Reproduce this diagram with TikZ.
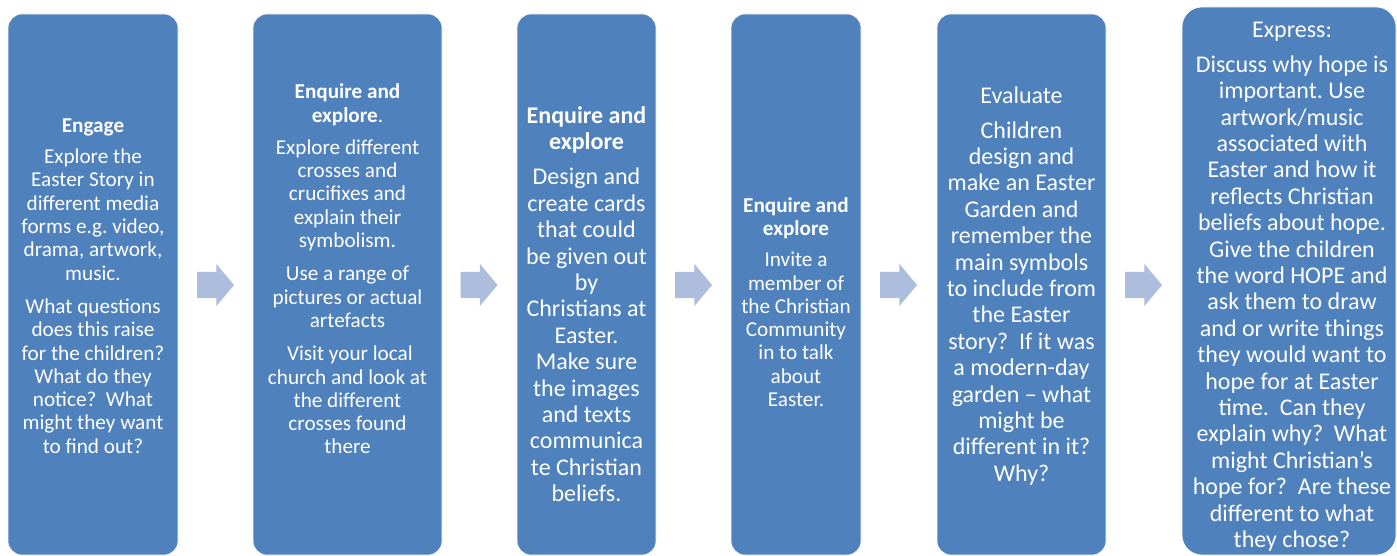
\documentclass[tikz,border=0pt]{standalone}
\usepackage{fontspec}
\setmainfont{Carlito}
\usetikzlibrary{shapes.arrows}
\frenchspacing

\definecolor{boxblue}{RGB}{79,129,189}
\definecolor{arrowblue}{RGB}{172,189,221}

\tikzset{
  smalltxt/.style={font=\fontsize{21.2}{23.3}\selectfont},
  bigtxt/.style={font=\fontsize{24}{26.4}\selectfont}
}

\begin{document}
\begin{tikzpicture}[x=1pt,y=-1pt]
      \useasboundingbox (0,0) rectangle (1397,556);

      \begin{scope}[every node/.style={rectangle,rounded corners=14pt,fill=boxblue,draw=white,line width=0.6pt,inner sep=0pt,minimum height=541pt}]
        \node[minimum width=170pt] (b1) at (93,284.5)   {};
        \node[minimum width=189pt] (b2) at (347.5,284.5) {};
        \node[minimum width=139pt] (b3) at (586.5,284.5) {};
        \node[minimum width=130pt] (b4) at (796,284.5)  {};
        \node[minimum width=169pt] (b5) at (1021.5,284.5) {};
        \node[minimum width=214pt,minimum height=548pt,rounded corners=20pt] (b6) at (1289,281) {};
      \end{scope}

      \begin{scope}[every node/.style={single arrow,fill=arrowblue,inner sep=0pt,text height=13pt,text depth=13pt,minimum height=37pt,single arrow head extend=8pt,single arrow tip angle=100}]
        \node (a1) at (210,285)    {};
        \node (a2) at (473.5,285)  {};
        \node (a3) at (688,285)    {};
        \node (a4) at (893,285)    {};
        \node (a5) at (1138,285)   {};
      \end{scope}

      \begin{scope}[every node/.style={text=white,align=center,inner sep=0pt}]
        \node[smalltxt] (t1) at (93,286) {\textbf{Engage}\\[8pt]
          Explore the\\ Easter Story in\\ different media\\ forms e.g. video,\\ drama, artwork,\\ music.\\[10pt]
          What questions\\ does this raise\\ for the children?\\ What do they\\ notice?\ \ What\\ might they want\\ to find out?};
        \node[smalltxt] (t2) at (347.5,269) {\textbf{Enquire and}\\ \textbf{explore}.\\[9pt]
          Explore different\\ crosses and\\ crucifixes and\\ explain their\\ symbolism.\\[10pt]
          Use a range of\\ pictures or actual\\ artefacts\\[10pt]
          \ Visit your local\\ church and look at\\ the different\\ crosses found\\ there};
        \node[bigtxt] (t3) at (586.5,304) {\textbf{Enquire and}\\ \textbf{explore}\\[9pt]
          Design and\\ create cards\\ that could\\ be given out\\ by\\ Christians at\\ Easter.\\ Make sure\\ the images\\ and texts\\ communica\\ te Christian\\ beliefs.};
        \node[smalltxt] (t4) at (796,302) {\textbf{Enquire and}\\ \textbf{explore}\\[8pt]
          Invite a\\ member of\\ the Christian\\ Community\\ in to talk\\ about\\ Easter.};
        \node[bigtxt] (t5) at (1021.5,286) {Evaluate\\[8pt]
          Children\\ design and\\ make an Easter\\ Garden and\\ remember the\\ main symbols\\ to include from\\ the Easter\\ story?\ \ If it was\\ a modern-day\\ garden -- what\\ might be\\ different in it?\\ Why?};
        \node[bigtxt] (t6) at (1292,287) {Express:\\[8pt]
          Discuss why hope is\\ important. Use\\ artwork/music\\ associated with\\ Easter and how it\\ reflects Christian\\ beliefs about hope.\\ Give the children\\ the word HOPE and\\ ask them to draw\\ and or write things\\ they would want to\\ hope for at Easter\\ time.\ \ Can they\\ explain why?\ \ What\\ might Christian’s\\ hope for?\ \ Are these\\ different to what\\ they chose?};
      \end{scope}

\end{tikzpicture}
\end{document}
